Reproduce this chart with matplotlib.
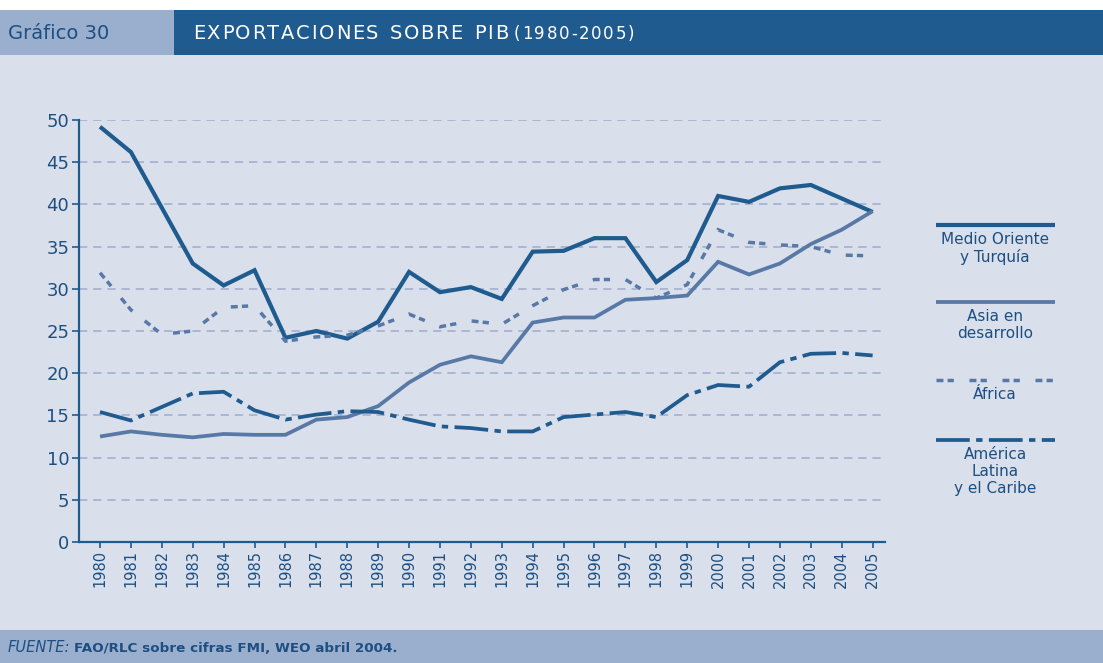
import matplotlib
matplotlib.use("Agg")
import matplotlib.pyplot as plt
from matplotlib.lines import Line2D
from matplotlib.patches import Rectangle

years = list(range(1980, 2006))
medio_oriente = [49.2, 46.2, 39.6, 33.0, 30.4, 32.2, 24.2, 25.0, 24.1, 26.1,
                 32.0, 29.6, 30.2, 28.8, 34.4, 34.5, 36.0, 36.0, 30.8, 33.4,
                 41.0, 40.3, 41.9, 42.3, 40.7, 39.1]
asia = [12.5, 13.1, 12.7, 12.4, 12.8, 12.7, 12.7, 14.5, 14.8, 16.1,
        18.9, 21.0, 22.0, 21.3, 26.0, 26.6, 26.6, 28.7, 28.9, 29.2,
        33.2, 31.7, 33.0, 35.3, 37.0, 39.2]
africa = [31.9, 27.5, 24.6, 25.0, 27.8, 28.0, 23.8, 24.3, 24.5, 25.6,
          27.0, 25.5, 26.2, 25.8, 28.0, 29.9, 31.1, 31.1, 28.9, 30.5,
          37.0, 35.5, 35.2, 35.0, 34.0, 33.9]
america_latina = [15.4, 14.4, 16.0, 17.6, 17.8, 15.6, 14.5, 15.1, 15.5, 15.4,
                  14.5, 13.7, 13.5, 13.1, 13.1, 14.8, 15.1, 15.4, 14.8, 17.4,
                  18.6, 18.4, 21.3, 22.3, 22.4, 22.1]
y_ticks = [0, 5, 10, 15, 20, 25, 30, 35, 40, 45, 50]
series_labels = ["Medio Oriente\ny Turquía", "Asia en\ndesarrollo", "África",
                 "América\nLatina\ny el Caribe"]

W, H = 1103, 663
DARK = "#1f5b8e"
MID = "#5878a6"
TXT = "#1d4f82"
BG = "#d9e0eb"
BAND = "#9aaecd"
GRID = "#a3b0cf"

plt.rcParams['font.family'] = ['DejaVu Sans']
fig = plt.figure(figsize=(W / 100, H / 100), dpi=100)
fig.patch.set_facecolor(BG)

def fx(px):
    return px / W

def fy(py):
    return 1 - py / H

# header & footer bands
fig.add_artist(Rectangle((0, fy(663)), 1, (663 - 630) / H, transform=fig.transFigure,
                         facecolor=BAND, edgecolor='none', zorder=0))
fig.add_artist(Rectangle((0, fy(10)), 1, 10 / H, transform=fig.transFigure,
                         facecolor='white', edgecolor='none', zorder=0))
fig.add_artist(Rectangle((0, fy(55)), fx(174), 45 / H, transform=fig.transFigure,
                         facecolor=BAND, edgecolor='none', zorder=0))
fig.add_artist(Rectangle((fx(174), fy(55)), 1 - fx(174), 45 / H, transform=fig.transFigure,
                         facecolor=DARK, edgecolor='none', zorder=0))

renderer = fig.canvas.get_renderer()

def tracked(x0, x1, yc, s, size, color):
    texts = []
    widths = []
    for ch in s:
        t = fig.text(0, 0, ch if ch != ' ' else 'I', fontsize=size, color=color,
                     va='baseline', ha='left')
        w = t.get_window_extent(renderer).width
        if ch == ' ':
            w *= 1.4
            t.set_text(' ')
        texts.append(t)
        widths.append(w)
    natural = sum(widths)
    track = (x1 - x0 - natural) / max(len(s) - 1, 1)
    x = x0
    for t, w in zip(texts, widths):
        t.set_position((fx(x), fy(yc)))
        x += w + track

fig.text(fx(8), fy(39), "Gráfico 30", fontsize=14, color=TXT, va='baseline', ha='left')
tracked(193, 508, 39, "EXPORTACIONES SOBRE PIB", 14, 'white')
tracked(514, 634, 39, "(1980-2005)", 12, 'white')

# footer
t1 = fig.text(fx(8), fy(648), "FUENTE:", fontsize=10.5, style='italic', color=TXT,
              va='center', ha='left')
bb = t1.get_window_extent(renderer)
fig.text(fx(8) + (bb.width + 4) / W, fy(648), "FAO/RLC sobre cifras FMI, WEO abril 2004.",
         fontsize=9.7, color=TXT, va='center', ha='left', weight='bold')

# main axes
ax = fig.add_axes([fx(79), fy(542), fx(885) - fx(79), (542 - 120) / H])
ax.set_facecolor(BG)
ax.set_xlim(1979.32, 2005.4)
ax.set_ylim(0, 50)
for s in ['top', 'right']:
    ax.spines[s].set_visible(False)
for s in ['left', 'bottom']:
    ax.spines[s].set_color(DARK)
    ax.spines[s].set_linewidth(1.6)
ax.set_yticks(y_ticks)
ax.set_xticks(years)
ax.set_xticklabels([str(y) for y in years], rotation=90)
ax.tick_params(axis='y', colors=DARK, labelcolor=TXT, labelsize=13, length=5, width=1.2, pad=2)
ax.tick_params(axis='x', colors=DARK, labelcolor=TXT, labelsize=10.5, length=4, width=1.2, pad=2)
for yv in y_ticks[1:]:
    ax.axhline(yv, color=GRID, lw=1.2, dashes=(5, 3.5), zorder=1)

styles = [
    dict(color=DARK, lw=3.0, ls='-', solid_capstyle='butt'),
    dict(color=MID, lw=2.7, ls='-', solid_capstyle='butt'),
    dict(color=MID, lw=2.5, ls=(0, (2, 1.2, 1.8, 4.5))),
    dict(color=DARK, lw=2.7, ls=(0, (9, 1.7, 1.7, 1.7))),
]
data = [medio_oriente, asia, africa, america_latina]
for vals, st in zip(data, styles):
    ax.plot(years, vals, zorder=3, solid_joinstyle='miter', dash_joinstyle='miter', **st)

# legend (manual)
leg_lines = [225, 302, 380, 440]
text_tops = [241, 318, 396, 456]
for st, ly, ty, lab in zip(styles, leg_lines, text_tops, series_labels):
    fig.add_artist(Line2D([fx(936), fx(1055)], [fy(ly), fy(ly)], transform=fig.transFigure,
                          **{k: v for k, v in st.items()}))
    fig.text(fx(995), fy(ty - 9), lab, fontsize=11, color=TXT, ha='center', va='top',
             linespacing=1.15)

fig.savefig("out.png", dpi=100, facecolor=BG)
